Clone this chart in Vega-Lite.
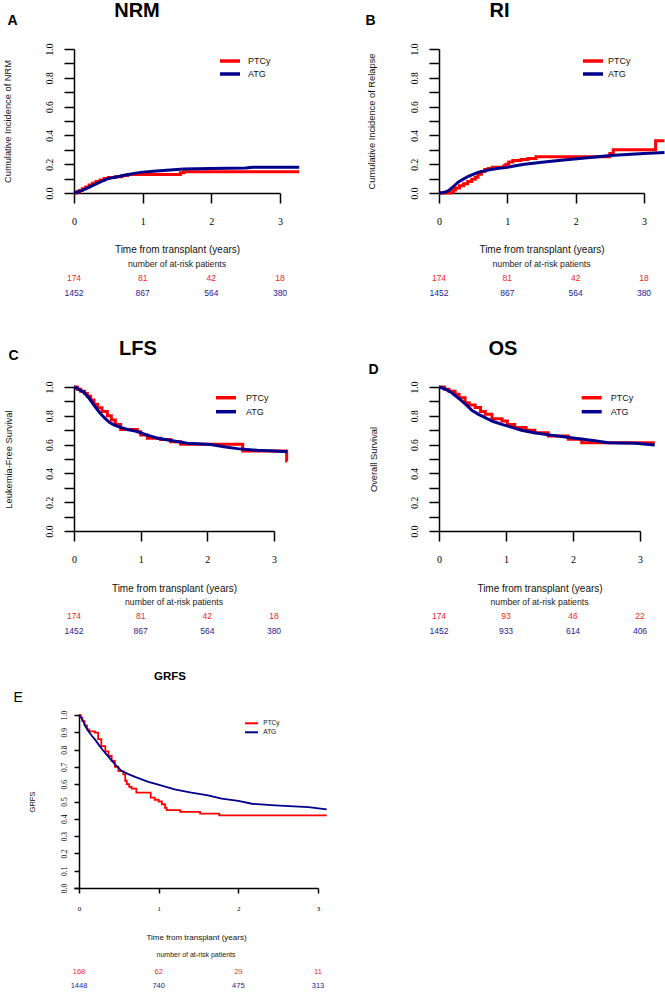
{
"$schema": "https://vega.github.io/schema/vega-lite/v6.json",
"background": "white",
"padding": {"left": 2, "top": 1, "right": 0, "bottom": 0},
"columns": 2,
"bounds": "flush",
"align": "each",
"spacing": {"row": 75, "column": 121},
"resolve": {"scale": {"color": "independent"}, "legend": {"color": "independent"}},
"config": {
  "view": {"stroke": null},
  "axis": {"domainColor": "#000", "tickColor": "#000", "labelColor": "#000", "titleColor": "#111", "domainWidth": 1.5, "tickWidth": 1.5, "grid": false, "labelFont": "Liberation Serif", "titleFont": "Liberation Sans", "titleFontWeight": "normal"},
  "title": {"font": "Liberation Sans", "fontWeight": "bold", "color": "#000", "anchor": "middle", "frame": "group"},
  "legend": {"title": null, "orient": "none", "padding": 0, "labelFont": "Liberation Sans", "labelColor": "#111"},
  "text": {"font": "Liberation Sans"}
},
"datasets": {
"curves": [
{"p":"A","g":"PTCy","t":0,"v":0},{"p":"A","g":"PTCy","t":0.04,"v":0.008},{"p":"A","g":"PTCy","t":0.08,"v":0.018},{"p":"A","g":"PTCy","t":0.12,"v":0.03},{"p":"A","g":"PTCy","t":0.17,"v":0.042},{"p":"A","g":"PTCy","t":0.22,"v":0.056},{"p":"A","g":"PTCy","t":0.27,"v":0.068},{"p":"A","g":"PTCy","t":0.32,"v":0.08},{"p":"A","g":"PTCy","t":0.38,"v":0.09},{"p":"A","g":"PTCy","t":0.44,"v":0.1},{"p":"A","g":"PTCy","t":0.5,"v":0.107},{"p":"A","g":"PTCy","t":0.6,"v":0.113},{"p":"A","g":"PTCy","t":0.7,"v":0.122},{"p":"A","g":"PTCy","t":0.78,"v":0.128},{"p":"A","g":"PTCy","t":1.55,"v":0.14},{"p":"A","g":"PTCy","t":1.6,"v":0.148},{"p":"A","g":"PTCy","t":3.28,"v":0.148},
{"p":"A","g":"ATG","t":0,"v":0},{"p":"A","g":"ATG","t":0.1,"v":0.015},{"p":"A","g":"ATG","t":0.2,"v":0.035},{"p":"A","g":"ATG","t":0.3,"v":0.058},{"p":"A","g":"ATG","t":0.4,"v":0.08},{"p":"A","g":"ATG","t":0.5,"v":0.1},{"p":"A","g":"ATG","t":0.6,"v":0.11},{"p":"A","g":"ATG","t":0.75,"v":0.125},{"p":"A","g":"ATG","t":0.9,"v":0.138},{"p":"A","g":"ATG","t":1.0,"v":0.145},{"p":"A","g":"ATG","t":1.2,"v":0.152},{"p":"A","g":"ATG","t":1.4,"v":0.16},{"p":"A","g":"ATG","t":1.6,"v":0.166},{"p":"A","g":"ATG","t":2.0,"v":0.17},{"p":"A","g":"ATG","t":2.5,"v":0.173},{"p":"A","g":"ATG","t":2.6,"v":0.178},{"p":"A","g":"ATG","t":3.28,"v":0.179},
{"p":"B","g":"PTCy","t":0,"v":0},{"p":"B","g":"PTCy","t":0.17,"v":0.007},{"p":"B","g":"PTCy","t":0.21,"v":0.02},{"p":"B","g":"PTCy","t":0.24,"v":0.035},{"p":"B","g":"PTCy","t":0.3,"v":0.05},{"p":"B","g":"PTCy","t":0.36,"v":0.065},{"p":"B","g":"PTCy","t":0.42,"v":0.08},{"p":"B","g":"PTCy","t":0.48,"v":0.095},{"p":"B","g":"PTCy","t":0.53,"v":0.11},{"p":"B","g":"PTCy","t":0.57,"v":0.13},{"p":"B","g":"PTCy","t":0.62,"v":0.15},{"p":"B","g":"PTCy","t":0.67,"v":0.163},{"p":"B","g":"PTCy","t":0.72,"v":0.17},{"p":"B","g":"PTCy","t":0.78,"v":0.178},{"p":"B","g":"PTCy","t":0.95,"v":0.19},{"p":"B","g":"PTCy","t":0.98,"v":0.2},{"p":"B","g":"PTCy","t":1.02,"v":0.215},{"p":"B","g":"PTCy","t":1.08,"v":0.225},{"p":"B","g":"PTCy","t":1.2,"v":0.232},{"p":"B","g":"PTCy","t":1.3,"v":0.24},{"p":"B","g":"PTCy","t":1.42,"v":0.252},{"p":"B","g":"PTCy","t":2.5,"v":0.275},{"p":"B","g":"PTCy","t":2.55,"v":0.3},{"p":"B","g":"PTCy","t":3.17,"v":0.363},{"p":"B","g":"PTCy","t":3.3,"v":0.363},
{"p":"B","g":"ATG","t":0,"v":0},{"p":"B","g":"ATG","t":0.07,"v":0.003},{"p":"B","g":"ATG","t":0.14,"v":0.016},{"p":"B","g":"ATG","t":0.2,"v":0.04},{"p":"B","g":"ATG","t":0.28,"v":0.075},{"p":"B","g":"ATG","t":0.35,"v":0.095},{"p":"B","g":"ATG","t":0.43,"v":0.116},{"p":"B","g":"ATG","t":0.5,"v":0.13},{"p":"B","g":"ATG","t":0.57,"v":0.143},{"p":"B","g":"ATG","t":0.65,"v":0.152},{"p":"B","g":"ATG","t":0.72,"v":0.16},{"p":"B","g":"ATG","t":0.85,"v":0.17},{"p":"B","g":"ATG","t":1.0,"v":0.178},{"p":"B","g":"ATG","t":1.1,"v":0.188},{"p":"B","g":"ATG","t":1.25,"v":0.2},{"p":"B","g":"ATG","t":1.54,"v":0.215},{"p":"B","g":"ATG","t":1.75,"v":0.225},{"p":"B","g":"ATG","t":1.98,"v":0.236},{"p":"B","g":"ATG","t":2.25,"v":0.248},{"p":"B","g":"ATG","t":2.51,"v":0.26},{"p":"B","g":"ATG","t":2.75,"v":0.268},{"p":"B","g":"ATG","t":3.0,"v":0.275},{"p":"B","g":"ATG","t":3.3,"v":0.282},
{"p":"C","g":"PTCy","t":0,"v":1},{"p":"C","g":"PTCy","t":0.05,"v":0.985},{"p":"C","g":"PTCy","t":0.1,"v":0.97},{"p":"C","g":"PTCy","t":0.16,"v":0.955},{"p":"C","g":"PTCy","t":0.2,"v":0.935},{"p":"C","g":"PTCy","t":0.25,"v":0.91},{"p":"C","g":"PTCy","t":0.3,"v":0.88},{"p":"C","g":"PTCy","t":0.355,"v":0.856},{"p":"C","g":"PTCy","t":0.42,"v":0.83},{"p":"C","g":"PTCy","t":0.5,"v":0.8},{"p":"C","g":"PTCy","t":0.56,"v":0.77},{"p":"C","g":"PTCy","t":0.62,"v":0.74},{"p":"C","g":"PTCy","t":0.7,"v":0.705},{"p":"C","g":"PTCy","t":0.95,"v":0.69},{"p":"C","g":"PTCy","t":1.0,"v":0.667},{"p":"C","g":"PTCy","t":1.1,"v":0.644},{"p":"C","g":"PTCy","t":1.3,"v":0.635},{"p":"C","g":"PTCy","t":1.45,"v":0.62},{"p":"C","g":"PTCy","t":1.6,"v":0.602},{"p":"C","g":"PTCy","t":2.53,"v":0.556},{"p":"C","g":"PTCy","t":3.19,"v":0.486},{"p":"C","g":"PTCy","t":3.2,"v":0.486},
{"p":"C","g":"ATG","t":0,"v":1},{"p":"C","g":"ATG","t":0.05,"v":0.99},{"p":"C","g":"ATG","t":0.155,"v":0.96},{"p":"C","g":"ATG","t":0.23,"v":0.92},{"p":"C","g":"ATG","t":0.305,"v":0.87},{"p":"C","g":"ATG","t":0.38,"v":0.825},{"p":"C","g":"ATG","t":0.455,"v":0.787},{"p":"C","g":"ATG","t":0.53,"v":0.755},{"p":"C","g":"ATG","t":0.605,"v":0.736},{"p":"C","g":"ATG","t":0.7,"v":0.72},{"p":"C","g":"ATG","t":0.8,"v":0.705},{"p":"C","g":"ATG","t":0.955,"v":0.69},{"p":"C","g":"ATG","t":1.1,"v":0.665},{"p":"C","g":"ATG","t":1.255,"v":0.644},{"p":"C","g":"ATG","t":1.5,"v":0.625},{"p":"C","g":"ATG","t":1.7,"v":0.61},{"p":"C","g":"ATG","t":2.05,"v":0.6},{"p":"C","g":"ATG","t":2.25,"v":0.585},{"p":"C","g":"ATG","t":2.45,"v":0.572},{"p":"C","g":"ATG","t":2.75,"v":0.56},{"p":"C","g":"ATG","t":3.0,"v":0.556},{"p":"C","g":"ATG","t":3.2,"v":0.551},
{"p":"D","g":"PTCy","t":0,"v":1},{"p":"D","g":"PTCy","t":0.08,"v":0.985},{"p":"D","g":"PTCy","t":0.15,"v":0.97},{"p":"D","g":"PTCy","t":0.24,"v":0.95},{"p":"D","g":"PTCy","t":0.3,"v":0.925},{"p":"D","g":"PTCy","t":0.39,"v":0.89},{"p":"D","g":"PTCy","t":0.45,"v":0.875},{"p":"D","g":"PTCy","t":0.54,"v":0.857},{"p":"D","g":"PTCy","t":0.62,"v":0.83},{"p":"D","g":"PTCy","t":0.69,"v":0.81},{"p":"D","g":"PTCy","t":0.79,"v":0.78},{"p":"D","g":"PTCy","t":0.94,"v":0.764},{"p":"D","g":"PTCy","t":1.02,"v":0.74},{"p":"D","g":"PTCy","t":1.13,"v":0.718},{"p":"D","g":"PTCy","t":1.3,"v":0.7},{"p":"D","g":"PTCy","t":1.43,"v":0.683},{"p":"D","g":"PTCy","t":1.63,"v":0.66},{"p":"D","g":"PTCy","t":1.93,"v":0.637},{"p":"D","g":"PTCy","t":2.13,"v":0.613},{"p":"D","g":"PTCy","t":3.22,"v":0.613},
{"p":"D","g":"ATG","t":0,"v":1},{"p":"D","g":"ATG","t":0.1,"v":0.985},{"p":"D","g":"ATG","t":0.19,"v":0.96},{"p":"D","g":"ATG","t":0.27,"v":0.93},{"p":"D","g":"ATG","t":0.34,"v":0.903},{"p":"D","g":"ATG","t":0.42,"v":0.87},{"p":"D","g":"ATG","t":0.49,"v":0.838},{"p":"D","g":"ATG","t":0.59,"v":0.81},{"p":"D","g":"ATG","t":0.69,"v":0.787},{"p":"D","g":"ATG","t":0.8,"v":0.762},{"p":"D","g":"ATG","t":0.94,"v":0.74},{"p":"D","g":"ATG","t":1.1,"v":0.718},{"p":"D","g":"ATG","t":1.23,"v":0.7},{"p":"D","g":"ATG","t":1.4,"v":0.684},{"p":"D","g":"ATG","t":1.58,"v":0.671},{"p":"D","g":"ATG","t":1.8,"v":0.658},{"p":"D","g":"ATG","t":2.03,"v":0.644},{"p":"D","g":"ATG","t":2.3,"v":0.628},{"p":"D","g":"ATG","t":2.53,"v":0.613},{"p":"D","g":"ATG","t":2.93,"v":0.609},{"p":"D","g":"ATG","t":3.22,"v":0.597},
{"p":"E","g":"PTCy","t":0,"v":1},{"p":"E","g":"PTCy","t":0.02,"v":0.985},{"p":"E","g":"PTCy","t":0.04,"v":0.965},{"p":"E","g":"PTCy","t":0.07,"v":0.94},{"p":"E","g":"PTCy","t":0.1,"v":0.917},{"p":"E","g":"PTCy","t":0.13,"v":0.905},{"p":"E","g":"PTCy","t":0.2,"v":0.898},{"p":"E","g":"PTCy","t":0.24,"v":0.86},{"p":"E","g":"PTCy","t":0.28,"v":0.82},{"p":"E","g":"PTCy","t":0.33,"v":0.79},{"p":"E","g":"PTCy","t":0.37,"v":0.763},{"p":"E","g":"PTCy","t":0.41,"v":0.735},{"p":"E","g":"PTCy","t":0.45,"v":0.7},{"p":"E","g":"PTCy","t":0.494,"v":0.676},{"p":"E","g":"PTCy","t":0.556,"v":0.657},{"p":"E","g":"PTCy","t":0.58,"v":0.62},{"p":"E","g":"PTCy","t":0.6,"v":0.6},{"p":"E","g":"PTCy","t":0.63,"v":0.585},{"p":"E","g":"PTCy","t":0.66,"v":0.575},{"p":"E","g":"PTCy","t":0.72,"v":0.551},{"p":"E","g":"PTCy","t":0.9,"v":0.522},{"p":"E","g":"PTCy","t":0.95,"v":0.51},{"p":"E","g":"PTCy","t":1.0,"v":0.5},{"p":"E","g":"PTCy","t":1.04,"v":0.484},{"p":"E","g":"PTCy","t":1.08,"v":0.464},{"p":"E","g":"PTCy","t":1.1,"v":0.45},{"p":"E","g":"PTCy","t":1.27,"v":0.44},{"p":"E","g":"PTCy","t":1.52,"v":0.43},{"p":"E","g":"PTCy","t":1.76,"v":0.42},{"p":"E","g":"PTCy","t":3.11,"v":0.42},
{"p":"E","g":"ATG","t":0,"v":1},{"p":"E","g":"ATG","t":0.03,"v":0.985},{"p":"E","g":"ATG","t":0.054,"v":0.965},{"p":"E","g":"ATG","t":0.08,"v":0.935},{"p":"E","g":"ATG","t":0.117,"v":0.907},{"p":"E","g":"ATG","t":0.16,"v":0.88},{"p":"E","g":"ATG","t":0.2,"v":0.859},{"p":"E","g":"ATG","t":0.26,"v":0.82},{"p":"E","g":"ATG","t":0.326,"v":0.782},{"p":"E","g":"ATG","t":0.39,"v":0.748},{"p":"E","g":"ATG","t":0.452,"v":0.715},{"p":"E","g":"ATG","t":0.536,"v":0.676},{"p":"E","g":"ATG","t":0.62,"v":0.658},{"p":"E","g":"ATG","t":0.703,"v":0.642},{"p":"E","g":"ATG","t":0.87,"v":0.613},{"p":"E","g":"ATG","t":0.996,"v":0.597},{"p":"E","g":"ATG","t":1.2,"v":0.57},{"p":"E","g":"ATG","t":1.41,"v":0.551},{"p":"E","g":"ATG","t":1.62,"v":0.536},{"p":"E","g":"ATG","t":1.79,"v":0.516},{"p":"E","g":"ATG","t":2.0,"v":0.503},{"p":"E","g":"ATG","t":2.17,"v":0.487},{"p":"E","g":"ATG","t":2.46,"v":0.478},{"p":"E","g":"ATG","t":2.88,"v":0.468},{"p":"E","g":"ATG","t":3.11,"v":0.455}
],
"risk": [
{"p":"A","g":"PTCy","t":0,"n":174},{"p":"A","g":"PTCy","t":1,"n":81},{"p":"A","g":"PTCy","t":2,"n":42},{"p":"A","g":"PTCy","t":3,"n":18},
{"p":"A","g":"ATG","t":0,"n":1452},{"p":"A","g":"ATG","t":1,"n":867},{"p":"A","g":"ATG","t":2,"n":564},{"p":"A","g":"ATG","t":3,"n":380},
{"p":"B","g":"PTCy","t":0,"n":174},{"p":"B","g":"PTCy","t":1,"n":81},{"p":"B","g":"PTCy","t":2,"n":42},{"p":"B","g":"PTCy","t":3,"n":18},
{"p":"B","g":"ATG","t":0,"n":1452},{"p":"B","g":"ATG","t":1,"n":867},{"p":"B","g":"ATG","t":2,"n":564},{"p":"B","g":"ATG","t":3,"n":380},
{"p":"C","g":"PTCy","t":0,"n":174},{"p":"C","g":"PTCy","t":1,"n":81},{"p":"C","g":"PTCy","t":2,"n":42},{"p":"C","g":"PTCy","t":3,"n":18},
{"p":"C","g":"ATG","t":0,"n":1452},{"p":"C","g":"ATG","t":1,"n":867},{"p":"C","g":"ATG","t":2,"n":564},{"p":"C","g":"ATG","t":3,"n":380},
{"p":"D","g":"PTCy","t":0,"n":174},{"p":"D","g":"PTCy","t":1,"n":93},{"p":"D","g":"PTCy","t":2,"n":46},{"p":"D","g":"PTCy","t":3,"n":22},
{"p":"D","g":"ATG","t":0,"n":1452},{"p":"D","g":"ATG","t":1,"n":933},{"p":"D","g":"ATG","t":2,"n":614},{"p":"D","g":"ATG","t":3,"n":406},
{"p":"E","g":"PTCy","t":0,"n":168},{"p":"E","g":"PTCy","t":1,"n":62},{"p":"E","g":"PTCy","t":2,"n":29},{"p":"E","g":"PTCy","t":3,"n":11},
{"p":"E","g":"ATG","t":0,"n":1448},{"p":"E","g":"ATG","t":1,"n":740},{"p":"E","g":"ATG","t":2,"n":475},{"p":"E","g":"ATG","t":3,"n":313}
]
},
"concat": [
{
 "width": 206, "height": 144,
 "title": {"text": "NRM", "fontSize": 20, "offset": -8.4, "dx": -40},
 "data": {"name": "curves"},
 "transform": [{"filter": "datum.p == 'A'"}],
 "encoding": {
  "y": {"field": "v", "type": "quantitative", "scale": {"domain": [0, 1], "nice": false}, "axis": {"values": [0,0.1,0.2,0.3,0.4,0.5,0.6,0.7,0.8,0.9,1], "labelExpr": "round(datum.value*10) % 2 == 0 ? format(datum.value, '.1f') : ''", "labelAngle": -90, "labelAlign": "center", "labelBaseline": "bottom", "labelFontSize": 9.5, "labelPadding": 10, "tickSize": 10, "labelOverlap": false, "labelFlush": false, "title": "Cumulative Incidence of NRM", "titleFontSize": 9.3, "titleX": -67, "titleY": 72, "titleAngle": -90, "titleAlign": "center", "titleBaseline": "middle"}},
  "color": {"field": "g", "type": "nominal", "scale": {"domain": ["PTCy", "ATG"], "range": ["#ff0000", "#00008b"]}, "legend": {"legendX": 150.5, "legendY": 6.5, "symbolType": "M-2.667,0H2.667", "symbolSize": 56.25, "symbolStrokeWidth": 3.5, "labelFontSize": 9, "labelOffset": 12.5, "rowPadding": -3}}
 },
 "layer": [
  {"transform": [{"filter": "datum.g == 'PTCy'"}], "mark": {"type": "line", "interpolate": "step-after", "strokeWidth": 3},
   "encoding": {"x": {"field": "t", "type": "quantitative", "scale": {"domain": [0, 3], "nice": false, "zero": false}, "axis": {"values": [0,1,2,3], "format": "d", "tickSize": 10, "labelFontSize": 10, "labelPadding": 13, "labelFlush": false, "title": "Time from transplant (years)", "titleFontSize": 10, "titleY": 56, "titleBaseline": "middle"}}}},
  {"transform": [{"filter": "datum.g == 'ATG'"}], "mark": {"type": "line", "strokeWidth": 3},
   "encoding": {"x": {"field": "t", "type": "quantitative", "scale": {"domain": [0, 3], "nice": false, "zero": false}, "axis": {"orient": "top", "domain": false, "ticks": false, "labels": false, "title": "A", "titleX": -67, "titleY": -25, "titleAlign": "left", "titleBaseline": "alphabetic", "titleAngle": 0, "titleFontSize": 14, "titleFontWeight": "bold", "titleColor": "#000"}}}}
 ],
 "resolve": {"axis": {"x": "independent"}}
},
{
 "width": 205, "height": 144,
 "title": {"text": "RI", "fontSize": 20, "offset": -8.4, "dx": -42},
 "data": {"name": "curves"},
 "transform": [{"filter": "datum.p == 'B'"}],
 "encoding": {
  "y": {"field": "v", "type": "quantitative", "scale": {"domain": [0, 1], "nice": false}, "axis": {"values": [0,0.1,0.2,0.3,0.4,0.5,0.6,0.7,0.8,0.9,1], "labelExpr": "round(datum.value*10) % 2 == 0 ? format(datum.value, '.1f') : ''", "labelAngle": -90, "labelAlign": "center", "labelBaseline": "bottom", "labelFontSize": 9.5, "labelPadding": 10, "tickSize": 10, "labelOverlap": false, "labelFlush": false, "title": "Cumulative Incidence of Relapse", "titleFontSize": 9.3, "titleX": -68, "titleY": 72, "titleAngle": -90, "titleAlign": "center", "titleBaseline": "middle"}},
  "color": {"field": "g", "type": "nominal", "scale": {"domain": ["PTCy", "ATG"], "range": ["#ff0000", "#00008b"]}, "legend": {"legendX": 148.5, "legendY": 6.5, "symbolType": "M-2.667,0H2.667", "symbolSize": 56.25, "symbolStrokeWidth": 3.5, "labelFontSize": 9, "labelOffset": 9.5, "rowPadding": -3.5}}
 },
 "layer": [
  {"transform": [{"filter": "datum.g == 'PTCy'"}], "mark": {"type": "line", "interpolate": "step-after", "strokeWidth": 3},
   "encoding": {"x": {"field": "t", "type": "quantitative", "scale": {"domain": [0, 3], "nice": false, "zero": false}, "axis": {"values": [0,1,2,3], "format": "d", "tickSize": 10, "labelFontSize": 10, "labelPadding": 13, "labelFlush": false, "title": "Time from transplant (years)", "titleFontSize": 10, "titleY": 56, "titleBaseline": "middle"}}}},
  {"transform": [{"filter": "datum.g == 'ATG'"}], "mark": {"type": "line", "strokeWidth": 3},
   "encoding": {"x": {"field": "t", "type": "quantitative", "scale": {"domain": [0, 3], "nice": false, "zero": false}, "axis": {"orient": "top", "domain": false, "ticks": false, "labels": false, "title": "B", "titleX": -74, "titleY": -25, "titleAlign": "left", "titleBaseline": "alphabetic", "titleAngle": 0, "titleFontSize": 14, "titleFontWeight": "bold", "titleColor": "#000"}}}}
 ],
 "resolve": {"axis": {"x": "independent"}}
},
{
 "width": 206, "height": 44,
 "title": {"text": "number of at-risk patients", "fontSize": 8.7, "fontWeight": "normal", "color": "#222", "offset": -0.8},
 "data": {"name": "risk"},
 "transform": [{"filter": "datum.p == 'A'"}],
 "mark": {"type": "text", "fontSize": 8.5},
 "encoding": {
  "x": {"field": "t", "type": "quantitative", "scale": {"domain": [0, 3], "nice": false, "zero": false}, "axis": null},
  "y": {"field": "g", "type": "nominal", "scale": {"type": "band", "domain": ["PTCy", "ATG"], "paddingInner": 0, "paddingOuter": 0.4667, "align": 0.1786}, "axis": null},
  "text": {"field": "n"},
  "color": {"field": "g", "type": "nominal", "scale": {"domain": ["PTCy", "ATG"], "range": ["#f01f1f", "#22229a"]}, "legend": null}
 }
},
{
 "width": 205, "height": 44,
 "title": {"text": "number of at-risk patients", "fontSize": 8.7, "fontWeight": "normal", "color": "#222", "offset": -0.8},
 "data": {"name": "risk"},
 "transform": [{"filter": "datum.p == 'B'"}],
 "mark": {"type": "text", "fontSize": 8.5},
 "encoding": {
  "x": {"field": "t", "type": "quantitative", "scale": {"domain": [0, 3], "nice": false, "zero": false}, "axis": null},
  "y": {"field": "g", "type": "nominal", "scale": {"type": "band", "domain": ["PTCy", "ATG"], "paddingInner": 0, "paddingOuter": 0.4667, "align": 0.1786}, "axis": null},
  "text": {"field": "n"},
  "color": {"field": "g", "type": "nominal", "scale": {"domain": ["PTCy", "ATG"], "range": ["#f01f1f", "#22229a"]}, "legend": null}
 }
},
{
 "width": 200, "height": 144,
 "title": {"text": "LFS", "fontSize": 20, "offset": -10.7, "dx": -36},
 "data": {"name": "curves"},
 "transform": [{"filter": "datum.p == 'C'"}],
 "encoding": {
  "y": {"field": "v", "type": "quantitative", "scale": {"domain": [0, 1], "nice": false}, "axis": {"values": [0,0.1,0.2,0.3,0.4,0.5,0.6,0.7,0.8,0.9,1], "labelExpr": "round(datum.value*10) % 2 == 0 ? format(datum.value, '.1f') : ''", "labelAngle": -90, "labelAlign": "center", "labelBaseline": "bottom", "labelFontSize": 9.5, "labelPadding": 10, "tickSize": 10, "labelOverlap": false, "labelFlush": false, "title": "Leukemia-Free Survival", "titleFontSize": 9.3, "titleX": -66, "titleY": 72, "titleAngle": -90, "titleAlign": "center", "titleBaseline": "middle"}},
  "color": {"field": "g", "type": "nominal", "scale": {"domain": ["PTCy", "ATG"], "range": ["#ff0000", "#00008b"]}, "legend": {"legendX": 145.5, "legendY": 4.2, "symbolType": "M-2.105,0H2.105", "symbolSize": 90.25, "symbolStrokeWidth": 3.5, "labelFontSize": 9, "labelOffset": 13.5, "rowPadding": -2}}
 },
 "layer": [
  {"transform": [{"filter": "datum.g == 'PTCy'"}], "mark": {"type": "line", "interpolate": "step-after", "strokeWidth": 3},
   "encoding": {"x": {"field": "t", "type": "quantitative", "scale": {"domain": [0, 3], "nice": false, "zero": false}, "axis": {"values": [0,1,2,3], "format": "d", "tickSize": 10, "labelFontSize": 10, "labelPadding": 13, "labelFlush": false, "title": "Time from transplant (years)", "titleFontSize": 10, "titleY": 57, "titleBaseline": "middle"}}}},
  {"transform": [{"filter": "datum.g == 'ATG'"}], "mark": {"type": "line", "strokeWidth": 3},
   "encoding": {"x": {"field": "t", "type": "quantitative", "scale": {"domain": [0, 3], "nice": false, "zero": false}, "axis": {"orient": "top", "domain": false, "ticks": false, "labels": false, "title": "C", "titleX": -66, "titleY": -28, "titleAlign": "left", "titleBaseline": "alphabetic", "titleAngle": 0, "titleFontSize": 14, "titleFontWeight": "bold", "titleColor": "#000"}}}}
 ],
 "resolve": {"axis": {"x": "independent"}}
},
{
 "width": 201, "height": 144,
 "title": {"text": "OS", "fontSize": 20, "offset": 3.3, "dx": -36.5},
 "data": {"name": "curves"},
 "transform": [{"filter": "datum.p == 'D'"}],
 "encoding": {
  "y": {"field": "v", "type": "quantitative", "scale": {"domain": [0, 1], "nice": false}, "axis": {"values": [0,0.1,0.2,0.3,0.4,0.5,0.6,0.7,0.8,0.9,1], "labelExpr": "round(datum.value*10) % 2 == 0 ? format(datum.value, '.1f') : ''", "labelAngle": -90, "labelAlign": "center", "labelBaseline": "bottom", "labelFontSize": 9.5, "labelPadding": 10, "tickSize": 10, "labelOverlap": false, "labelFlush": false, "title": "Overall Survival", "titleFontSize": 9.3, "titleX": -66, "titleY": 72, "titleAngle": -90, "titleAlign": "center", "titleBaseline": "middle"}},
  "color": {"field": "g", "type": "nominal", "scale": {"domain": ["PTCy", "ATG"], "range": ["#ff0000", "#00008b"]}, "legend": {"legendX": 146.2, "legendY": 4.2, "symbolType": "M-2.105,0H2.105", "symbolSize": 90.25, "symbolStrokeWidth": 3.5, "labelFontSize": 9, "labelOffset": 12.5, "rowPadding": -2}}
 },
 "layer": [
  {"transform": [{"filter": "datum.g == 'PTCy'"}], "mark": {"type": "line", "interpolate": "step-after", "strokeWidth": 3},
   "encoding": {"x": {"field": "t", "type": "quantitative", "scale": {"domain": [0, 3], "nice": false, "zero": false}, "axis": {"values": [0,1,2,3], "format": "d", "tickSize": 10, "labelFontSize": 10, "labelPadding": 13, "labelFlush": false, "title": "Time from transplant (years)", "titleFontSize": 10, "titleY": 57, "titleBaseline": "middle"}}}},
  {"transform": [{"filter": "datum.g == 'ATG'"}], "mark": {"type": "line", "strokeWidth": 3},
   "encoding": {"x": {"field": "t", "type": "quantitative", "scale": {"domain": [0, 3], "nice": false, "zero": false}, "axis": {"orient": "top", "domain": false, "ticks": false, "labels": false, "title": "D", "titleX": -71, "titleY": -14, "titleAlign": "left", "titleBaseline": "alphabetic", "titleAngle": 0, "titleFontSize": 14, "titleFontWeight": "bold", "titleColor": "#000"}}}}
 ],
 "resolve": {"axis": {"x": "independent"}}
},
{
 "width": 200, "height": 34,
 "title": {"text": "number of at-risk patients", "fontSize": 8.7, "fontWeight": "normal", "color": "#222", "offset": -0.8},
 "data": {"name": "risk"},
 "transform": [{"filter": "datum.p == 'C'"}],
 "mark": {"type": "text", "fontSize": 8.5},
 "encoding": {
  "x": {"field": "t", "type": "quantitative", "scale": {"domain": [0, 3], "nice": false, "zero": false}, "axis": null},
  "y": {"field": "g", "type": "nominal", "scale": {"type": "band", "domain": ["PTCy", "ATG"], "paddingInner": 0, "paddingOuter": 0.1333, "align": 0.625}, "axis": null},
  "text": {"field": "n"},
  "color": {"field": "g", "type": "nominal", "scale": {"domain": ["PTCy", "ATG"], "range": ["#f01f1f", "#22229a"]}, "legend": null}
 }
},
{
 "width": 201, "height": 34,
 "title": {"text": "number of at-risk patients", "fontSize": 8.7, "fontWeight": "normal", "color": "#222", "offset": -0.8},
 "data": {"name": "risk"},
 "transform": [{"filter": "datum.p == 'D'"}],
 "mark": {"type": "text", "fontSize": 8.5},
 "encoding": {
  "x": {"field": "t", "type": "quantitative", "scale": {"domain": [0, 3], "nice": false, "zero": false}, "axis": null},
  "y": {"field": "g", "type": "nominal", "scale": {"type": "band", "domain": ["PTCy", "ATG"], "paddingInner": 0, "paddingOuter": 0.1333, "align": 0.625}, "axis": null},
  "text": {"field": "n"},
  "color": {"field": "g", "type": "nominal", "scale": {"domain": ["PTCy", "ATG"], "range": ["#f01f1f", "#22229a"]}, "legend": null}
 }
},
{
 "width": 244, "height": 173,
 "title": {"text": "GRFS", "fontSize": 11.5, "offset": 7.1, "dx": -26},
 "data": {"name": "curves"},
 "transform": [{"filter": "datum.p == 'E'"}],
 "encoding": {
  "y": {"field": "v", "type": "quantitative", "scale": {"domain": [0, 1], "nice": false}, "axis": {"offset": -5, "values": [0,0.1,0.2,0.3,0.4,0.5,0.6,0.7,0.8,0.9,1], "format": ".1f", "labelAngle": -90, "labelAlign": "center", "labelBaseline": "bottom", "labelFontSize": 7.5, "labelPadding": 6, "tickSize": 5, "labelOverlap": false, "labelFlush": false, "title": "GRFS", "titleFontSize": 7.5, "titleX": -47, "titleY": 86.5, "titleAngle": -90, "titleAlign": "center", "titleBaseline": "middle"}},
  "color": {"field": "g", "type": "nominal", "scale": {"domain": ["PTCy", "ATG"], "range": ["#ff0000", "#00008b"]}, "legend": {"legendX": 173, "legendY": 3.8, "symbolType": "M-1.857,0H1.857", "symbolSize": 49, "symbolStrokeWidth": 2, "labelFontSize": 6.5, "labelOffset": 7.3, "rowPadding": -2.3}}
 },
 "layer": [
  {"transform": [{"filter": "datum.g == 'PTCy'"}], "mark": {"type": "line", "interpolate": "step-after", "strokeWidth": 1.8},
   "encoding": {"x": {"field": "t", "type": "quantitative", "scale": {"domain": [-0.0628, 3], "nice": false, "zero": false}, "axis": {"values": [0,1,2,3], "format": "d", "tickSize": 5, "labelFontSize": 7, "labelPadding": 11, "labelFlush": false, "title": "Time from transplant (years)", "titleFontSize": 8, "titleY": 49, "titleBaseline": "middle"}}}},
  {"transform": [{"filter": "datum.g == 'ATG'"}], "mark": {"type": "line", "strokeWidth": 1.8},
   "encoding": {"x": {"field": "t", "type": "quantitative", "scale": {"domain": [-0.0628, 3], "nice": false, "zero": false}, "axis": {"orient": "top", "domain": false, "ticks": false, "labels": false, "title": "E", "titleX": -61, "titleY": -14, "titleAlign": "left", "titleBaseline": "alphabetic", "titleAngle": 0, "titleFontSize": 14, "titleFontWeight": "normal", "titleColor": "#000"}}}}
 ],
 "resolve": {"axis": {"x": "independent"}}
},
{
 "width": 10, "height": 10,
 "data": {"values": []},
 "mark": {"type": "point", "opacity": 0},
 "encoding": {}
},
{
 "width": 244, "height": 30,
 "title": {"text": "number of at-risk patients", "fontSize": 7, "fontWeight": "normal", "color": "#222", "offset": 5},
 "data": {"name": "risk"},
 "transform": [{"filter": "datum.p == 'E'"}],
 "mark": {"type": "text", "fontSize": 7.5},
 "encoding": {
  "x": {"field": "t", "type": "quantitative", "scale": {"domain": [-0.0628, 3], "nice": false, "zero": false}, "axis": null},
  "y": {"field": "g", "type": "nominal", "scale": {"type": "band", "domain": ["PTCy", "ATG"], "paddingInner": 0, "paddingOuter": 0.0714, "align": 1}, "axis": null},
  "text": {"field": "n"},
  "color": {"field": "g", "type": "nominal", "scale": {"domain": ["PTCy", "ATG"], "range": ["#f01f1f", "#22229a"]}, "legend": null}
 }
}
]
}
